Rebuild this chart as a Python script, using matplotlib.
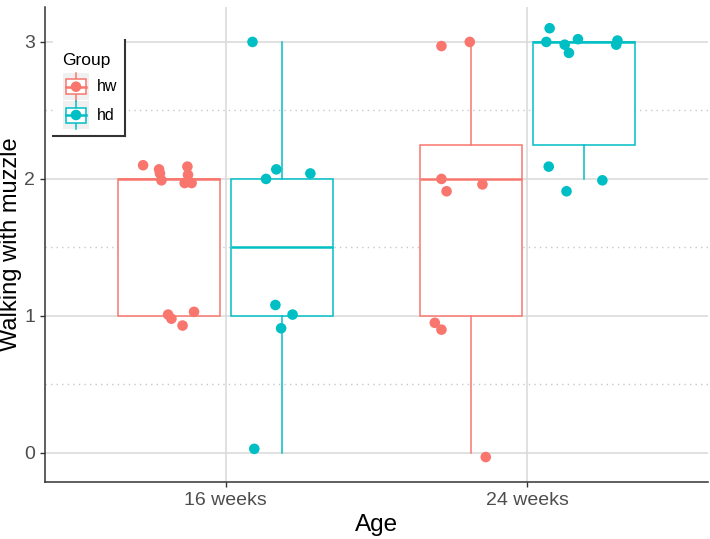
import numpy as np
import matplotlib
matplotlib.use("Agg")
import matplotlib.pyplot as plt
from matplotlib.patches import Rectangle

plt.rcParams['font.family'] = ['Liberation Sans', 'DejaVu Sans']

# categories and groups
ages = ["16 weeks", "24 weeks"]
groups = ["hw", "hd"]
colors = {"hw": "#F8766D", "hd": "#00BFC4"}

# jittered scores (y) and horizontal jitter (data units)
hw16_y = [2.10, 2.07, 2.04, 1.99, 2.09, 2.03, 1.97, 1.97, 1.01, 0.98, 0.93, 1.03]
hw16_dx = [-0.087, -0.034, -0.031, -0.026, 0.060, 0.062, 0.051, 0.074, -0.004, 0.007, 0.044, 0.082]
hd16_y = [3.00, 2.07, 2.00, 2.04, 1.08, 0.91, 1.01, 0.03]
hd16_dx = [-0.099, -0.020, -0.054, 0.093, -0.023, -0.004, 0.034, -0.093]
hw24_y = [2.97, 3.00, 2.00, 1.91, 1.96, 0.95, 0.90, -0.03]
hw24_dx = [-0.097, -0.003, -0.097, -0.080, 0.039, -0.119, -0.097, 0.050]
hd24_y = [3.10, 3.00, 2.98, 2.92, 3.02, 3.01, 2.98, 2.09, 1.91, 1.99]
hd24_dx = [-0.113, -0.124, -0.063, -0.049, -0.019, 0.112, 0.108, -0.116, -0.057, 0.062]

series = [
    (1, "hw", hw16_y, hw16_dx),
    (1, "hd", hd16_y, hd16_dx),
    (2, "hw", hw24_y, hw24_dx),
    (2, "hd", hd24_y, hd24_dx),
]

dodge = 0.1875
box_w = 0.3375

fig = plt.figure(figsize=(7.1, 5.39), dpi=100)
ax = fig.add_axes([45/710, 57/539, 663/710, 475/539])

for x, g, ys, dxs in series:
    pos = x + (-dodge if g == "hw" else dodge)
    col = colors[g]
    scores = np.round(ys)
    ax.boxplot([scores], positions=[pos], widths=box_w, patch_artist=True,
               showfliers=False, showcaps=False, whis=1.5,
               boxprops=dict(facecolor="white", edgecolor=col, linewidth=1.1),
               whiskerprops=dict(color=col, linewidth=1.1),
               medianprops=dict(color=col, linewidth=1.8),
               zorder=2)
    ax.scatter(pos + np.array(dxs), ys, s=58, color=col, edgecolors="none", zorder=3)

ax.set_xlim(0.4, 2.6)
ax.set_ylim(-0.212, 3.255)
ax.set_xticks([1, 2])
ax.set_xticklabels(ages)
ax.set_yticks([0, 1, 2, 3])
ax.set_yticks([0.5, 1.5, 2.5], minor=True)

ax.grid(True, which="major", color="#d9d9d9", linewidth=1.1, zorder=0)
ax.grid(True, which="minor", axis="y", color="#c8c8c8", linewidth=1.0,
        linestyle=(0, (1, 3)), zorder=0)
ax.set_axisbelow(True)

for s in ["top", "right"]:
    ax.spines[s].set_visible(False)
for s in ["left", "bottom"]:
    ax.spines[s].set_color("#333333")
    ax.spines[s].set_linewidth(1.1)

ax.tick_params(axis="both", which="major", labelsize=14, labelcolor="#4d4d4d",
               color="#333333", length=3.5, width=1.0)
ax.tick_params(axis="y", which="minor", length=0)
ax.set_xlabel("Age", fontsize=17.5, labelpad=4)
ax.set_ylabel("Walking with muzzle", fontsize=17, labelpad=1.5)

# legend drawn by hand in pixel units
lg = fig.add_axes([53/710, (539-136)/539, 72/710, 96/539])
lg.set_xlim(0, 72)
lg.set_ylim(96, 0)
lg.axis("off")
lg.add_patch(Rectangle((0, 0), 72, 96, facecolor="white", edgecolor="none", zorder=0))
lg.plot([72, 72], [0, 96], color="#333333", lw=1.5, clip_on=False)
lg.plot([0, 72], [96, 96], color="#333333", lw=1.5, clip_on=False)
lg.text(9, 20, "Group", fontsize=12.5, va="center", ha="left", color="black")
for i, g in enumerate(groups):
    cy = 46.7 + i * 28.3
    col = colors[g]
    lg.add_patch(Rectangle((9.7, cy - 13.8), 26.6, 27.6, facecolor="#f0f0f0",
                           edgecolor="none", zorder=1))
    lg.plot([23, 23], [cy - 13.8, cy + 13.8], color=col, lw=1.1, zorder=2)
    lg.add_patch(Rectangle((13, cy - 7.5), 20, 15, facecolor="white",
                           edgecolor=col, lw=1.1, zorder=3))
    lg.plot([13, 33], [cy, cy], color=col, lw=1.8, zorder=4)
    lg.scatter([23], [cy], s=58, color=col, edgecolors="none", zorder=5)
    lg.text(44, cy, g, fontsize=11.5, va="center", ha="left", color="black")

fig.savefig("out.png", dpi=100)
